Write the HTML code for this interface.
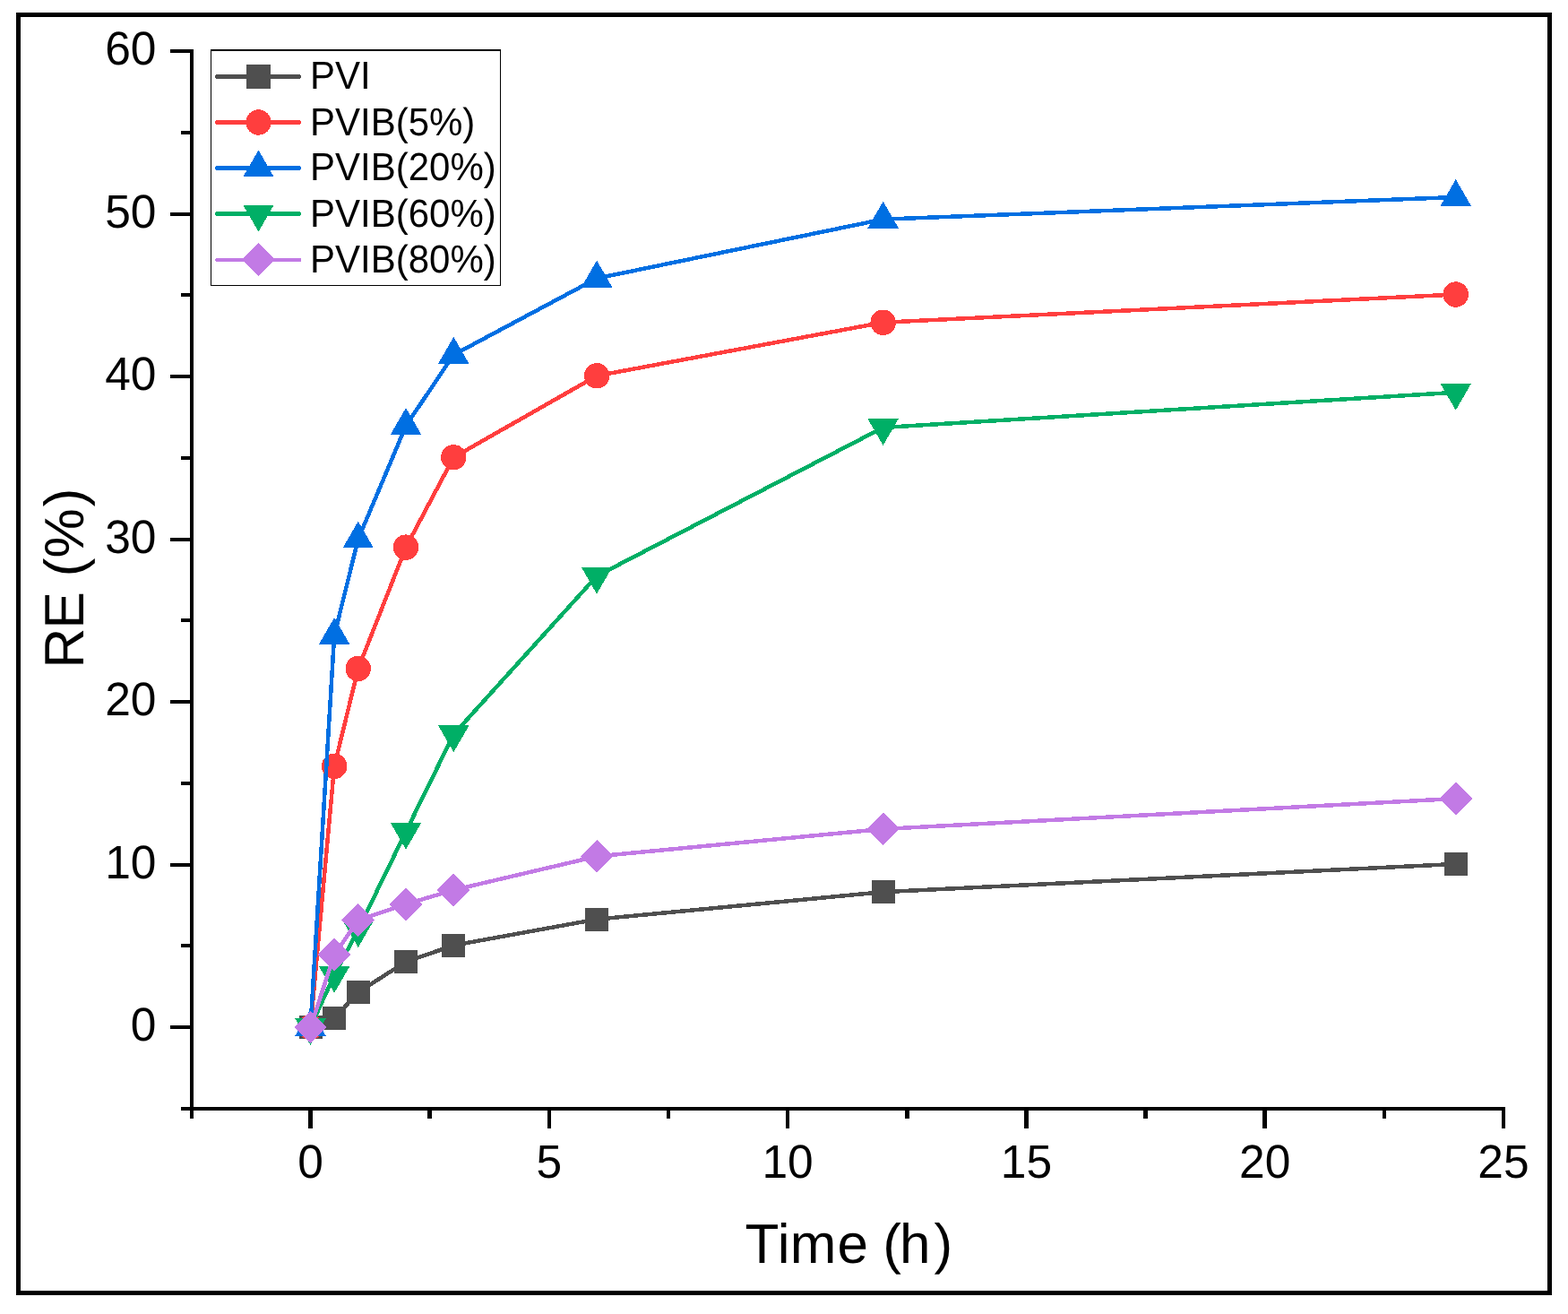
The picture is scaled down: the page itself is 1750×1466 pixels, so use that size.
<!DOCTYPE html>
<html><head><meta charset="utf-8"><title>RE vs Time</title>
<style>
html,body{margin:0;padding:0;background:#fff;}
body{width:1750px;height:1466px;overflow:hidden;}
svg{display:block;}
text{font-family:"Liberation Sans",Arial,Helvetica,sans-serif;fill:#000;font-kerning:none;}
</style></head><body>
<svg width="1750" height="1466" viewBox="0 0 1750 1466">
<rect x="0" y="0" width="1750" height="1466" fill="#fff"/>
<rect x="20.5" y="16.5" width="1709" height="1426" fill="none" stroke="#000" stroke-width="5"/>

<g stroke="#000" stroke-width="4.0" stroke-linecap="butt" shape-rendering="crispEdges"><line x1="214" y1="55" x2="214" y2="1239" /><line x1="212" y1="1237" x2="1680" y2="1237" /><line x1="190" y1="1146.00" x2="214" y2="1146.00" /><line x1="190" y1="964.50" x2="214" y2="964.50" /><line x1="190" y1="783.00" x2="214" y2="783.00" /><line x1="190" y1="601.50" x2="214" y2="601.50" /><line x1="190" y1="420.00" x2="214" y2="420.00" /><line x1="190" y1="238.50" x2="214" y2="238.50" /><line x1="190" y1="57.00" x2="214" y2="57.00" /><line x1="202" y1="1236.75" x2="214" y2="1236.75" /><line x1="202" y1="1055.25" x2="214" y2="1055.25" /><line x1="202" y1="873.75" x2="214" y2="873.75" /><line x1="202" y1="692.25" x2="214" y2="692.25" /><line x1="202" y1="510.75" x2="214" y2="510.75" /><line x1="202" y1="329.25" x2="214" y2="329.25" /><line x1="202" y1="147.75" x2="214" y2="147.75" /><line x1="346.50" y1="1237" x2="346.50" y2="1259" stroke-width="4.5"/><line x1="612.80" y1="1237" x2="612.80" y2="1259" stroke-width="4.5"/><line x1="879.10" y1="1237" x2="879.10" y2="1259" stroke-width="4.5"/><line x1="1145.40" y1="1237" x2="1145.40" y2="1259" stroke-width="4.5"/><line x1="1411.70" y1="1237" x2="1411.70" y2="1259" stroke-width="4.5"/><line x1="1678.00" y1="1237" x2="1678.00" y2="1259" stroke-width="4.5"/><line x1="214" y1="1237" x2="214" y2="1248" /><line x1="479.65" y1="1237" x2="479.65" y2="1248" stroke-width="4.5"/><line x1="745.95" y1="1237" x2="745.95" y2="1248" stroke-width="4.5"/><line x1="1012.25" y1="1237" x2="1012.25" y2="1248" stroke-width="4.5"/><line x1="1278.55" y1="1237" x2="1278.55" y2="1248" stroke-width="4.5"/><line x1="1544.85" y1="1237" x2="1544.85" y2="1248" stroke-width="4.5"/></g>
<g font-size="51.5" text-rendering="geometricPrecision"><text transform="translate(174.5,1161.10) scale(1,1.02)" text-anchor="end">0</text><text transform="translate(174.5,979.60) scale(1,1.02)" text-anchor="end">10</text><text transform="translate(174.5,798.10) scale(1,1.02)" text-anchor="end">20</text><text transform="translate(174.5,616.60) scale(1,1.02)" text-anchor="end">30</text><text transform="translate(174.5,435.10) scale(1,1.02)" text-anchor="end">40</text><text transform="translate(174.5,253.60) scale(1,1.02)" text-anchor="end">50</text><text transform="translate(174.5,72.10) scale(1,1.02)" text-anchor="end">60</text><text transform="translate(346.50,1314.4) scale(1,1.02)" text-anchor="middle">0</text><text transform="translate(612.80,1314.4) scale(1,1.02)" text-anchor="middle">5</text><text transform="translate(879.10,1314.4) scale(1,1.02)" text-anchor="middle">10</text><text transform="translate(1145.40,1314.4) scale(1,1.02)" text-anchor="middle">15</text><text transform="translate(1411.70,1314.4) scale(1,1.02)" text-anchor="middle">20</text><text transform="translate(1678.00,1314.4) scale(1,1.02)" text-anchor="middle">25</text></g>
<text x="831.51" y="1409" dx="0 -1.6 0.3 0.9 0 -1.0 -1.9 4.1" font-size="62" text-rendering="geometricPrecision">Time (h)</text>
<text transform="translate(93.2,644.3) rotate(-90) scale(1,1.0)" x="-99.89" y="0" dx="-1.3 -0.9 0 -0.2 0 2.3" font-size="62" text-rendering="geometricPrecision">RE (%)</text>
<g shape-rendering="crispEdges">
<polyline points="346.50,1146.00 373.13,1136.20 399.76,1106.98 453.02,1073.04 506.28,1054.71 666.06,1025.67 985.62,995.17 1624.74,963.96" fill="none" stroke="#4F4F4F" stroke-width="4.5" stroke-linejoin="round" stroke-linecap="round"/>
<rect x="333.50" y="1133.00" width="26.00" height="26.00" fill="#4F4F4F"/><rect x="360.13" y="1123.20" width="26.00" height="26.00" fill="#4F4F4F"/><rect x="386.76" y="1093.98" width="26.00" height="26.00" fill="#4F4F4F"/><rect x="440.02" y="1060.04" width="26.00" height="26.00" fill="#4F4F4F"/><rect x="493.28" y="1041.71" width="26.00" height="26.00" fill="#4F4F4F"/><rect x="653.06" y="1012.67" width="26.00" height="26.00" fill="#4F4F4F"/><rect x="972.62" y="982.17" width="26.00" height="26.00" fill="#4F4F4F"/><rect x="1611.74" y="950.96" width="26.00" height="26.00" fill="#4F4F4F"/>
<polyline points="346.50,1146.00 373.13,854.87 399.76,745.97 453.02,610.58 506.28,510.21 666.06,419.27 985.62,359.74 1624.74,328.52" fill="none" stroke="#FF3E3E" stroke-width="4.5" stroke-linejoin="round" stroke-linecap="round"/>
<circle cx="346.50" cy="1146.00" r="14.20" fill="#FF3E3E"/><circle cx="373.13" cy="854.87" r="14.20" fill="#FF3E3E"/><circle cx="399.76" cy="745.97" r="14.20" fill="#FF3E3E"/><circle cx="453.02" cy="610.58" r="14.20" fill="#FF3E3E"/><circle cx="506.28" cy="510.21" r="14.20" fill="#FF3E3E"/><circle cx="666.06" cy="419.27" r="14.20" fill="#FF3E3E"/><circle cx="985.62" cy="359.74" r="14.20" fill="#FF3E3E"/><circle cx="1624.74" cy="328.52" r="14.20" fill="#FF3E3E"/>
<polyline points="346.50,1146.00 373.13,708.95 399.76,601.50 453.02,474.99 506.28,395.86 666.06,310.56 985.62,244.67 1624.74,219.99" fill="none" stroke="#006FE2" stroke-width="4.5" stroke-linejoin="round" stroke-linecap="round"/>
<polygon points="346.50,1126.02 363.80,1155.99 329.20,1155.99" fill="#006FE2"/><polygon points="373.13,688.97 390.43,718.94 355.83,718.94" fill="#006FE2"/><polygon points="399.76,581.52 417.06,611.49 382.46,611.49" fill="#006FE2"/><polygon points="453.02,455.02 470.32,484.98 435.72,484.98" fill="#006FE2"/><polygon points="506.28,375.88 523.58,405.85 488.98,405.85" fill="#006FE2"/><polygon points="666.06,290.58 683.36,320.54 648.76,320.54" fill="#006FE2"/><polygon points="985.62,224.69 1002.92,254.66 968.32,254.66" fill="#006FE2"/><polygon points="1624.74,200.01 1642.04,229.98 1607.44,229.98" fill="#006FE2"/>
<polyline points="346.50,1146.00 373.13,1087.92 399.76,1037.10 453.02,927.84 506.28,819.30 666.06,642.70 985.62,476.99 1624.74,437.79" fill="none" stroke="#00AF66" stroke-width="4.5" stroke-linejoin="round" stroke-linecap="round"/>
<polygon points="346.50,1165.98 363.80,1136.01 329.20,1136.01" fill="#00AF66"/><polygon points="373.13,1107.90 390.43,1077.93 355.83,1077.93" fill="#00AF66"/><polygon points="399.76,1057.08 417.06,1027.11 382.46,1027.11" fill="#00AF66"/><polygon points="453.02,947.81 470.32,917.85 435.72,917.85" fill="#00AF66"/><polygon points="506.28,839.28 523.58,809.31 488.98,809.31" fill="#00AF66"/><polygon points="666.06,662.68 683.36,632.71 648.76,632.71" fill="#00AF66"/><polygon points="985.62,496.97 1002.92,467.00 968.32,467.00" fill="#00AF66"/><polygon points="1624.74,457.76 1642.04,427.80 1607.44,427.80" fill="#00AF66"/>
<polyline points="346.50,1146.00 373.13,1065.23 399.76,1026.57 453.02,1008.79 506.28,993.00 666.06,955.42 985.62,924.93 1624.74,890.99" fill="none" stroke="#C27AE5" stroke-width="4.5" stroke-linejoin="round" stroke-linecap="round"/>
<polygon points="346.50,1127.62 364.88,1146.00 346.50,1164.38 328.12,1146.00" fill="#C27AE5"/><polygon points="373.13,1046.85 391.51,1065.23 373.13,1083.62 354.75,1065.23" fill="#C27AE5"/><polygon points="399.76,1008.19 418.14,1026.57 399.76,1044.96 381.38,1026.57" fill="#C27AE5"/><polygon points="453.02,990.40 471.40,1008.79 453.02,1027.17 434.64,1008.79" fill="#C27AE5"/><polygon points="506.28,974.61 524.66,993.00 506.28,1011.38 487.90,993.00" fill="#C27AE5"/><polygon points="666.06,937.04 684.44,955.42 666.06,973.81 647.68,955.42" fill="#C27AE5"/><polygon points="985.62,906.55 1004.00,924.93 985.62,943.32 967.24,924.93" fill="#C27AE5"/><polygon points="1624.74,872.61 1643.12,890.99 1624.74,909.38 1606.36,890.99" fill="#C27AE5"/>
</g>
<g shape-rendering="crispEdges"><rect x="235" y="55" width="324" height="264" fill="#fff"/><rect x="235" y="55" width="324" height="2" fill="#000"/><rect x="235" y="55" width="1" height="264" fill="#000"/><rect x="558" y="55" width="1" height="264" fill="#000"/><rect x="235" y="318" width="324" height="1" fill="#000"/></g>
<g shape-rendering="crispEdges">
<line x1="242.2" y1="85.5" x2="334.2" y2="85.5" stroke="#4F4F4F" stroke-width="4.5" stroke-linecap="round"/>
<rect x="275.11" y="72.11" width="26.78" height="26.78" fill="#4F4F4F"/>
<text transform="translate(346,99.00) scale(0.9633,1.0)" x="0" y="0" font-size="43.6" text-rendering="geometricPrecision">PVI</text>
<line x1="242.2" y1="136.5" x2="334.2" y2="136.5" stroke="#FF3E3E" stroke-width="4.5" stroke-linecap="round"/>
<circle cx="288.50" cy="136.50" r="14.20" fill="#FF3E3E"/>
<text transform="translate(346,151.00) scale(0.9633,1.0)" x="0" y="0" font-size="43.6" text-rendering="geometricPrecision">PVIB(5%)</text>
<line x1="242.2" y1="187.5" x2="334.2" y2="187.5" stroke="#006FE2" stroke-width="4.5" stroke-linecap="round"/>
<polygon points="288.50,167.52 305.80,197.49 271.20,197.49" fill="#006FE2"/>
<text transform="translate(346,201.00) scale(0.9633,1.0)" x="0" y="0" font-size="43.6" text-rendering="geometricPrecision">PVIB(20%)</text>
<line x1="242.2" y1="238.5" x2="334.2" y2="238.5" stroke="#00AF66" stroke-width="4.5" stroke-linecap="round"/>
<polygon points="288.50,258.48 305.80,228.51 271.20,228.51" fill="#00AF66"/>
<text transform="translate(346,253.00) scale(0.9633,1.0)" x="0" y="0" font-size="43.6" text-rendering="geometricPrecision">PVIB(60%)</text>
<line x1="242.2" y1="290.0" x2="334.2" y2="290.0" stroke="#C27AE5" stroke-width="4.0" stroke-linecap="round"/>
<polygon points="288.50,271.12 306.88,289.50 288.50,307.88 270.12,289.50" fill="#C27AE5"/>
<text transform="translate(346,304.00) scale(0.9633,1.0)" x="0" y="0" font-size="43.6" text-rendering="geometricPrecision">PVIB(80%)</text>
</g>
</svg>
</body></html>
